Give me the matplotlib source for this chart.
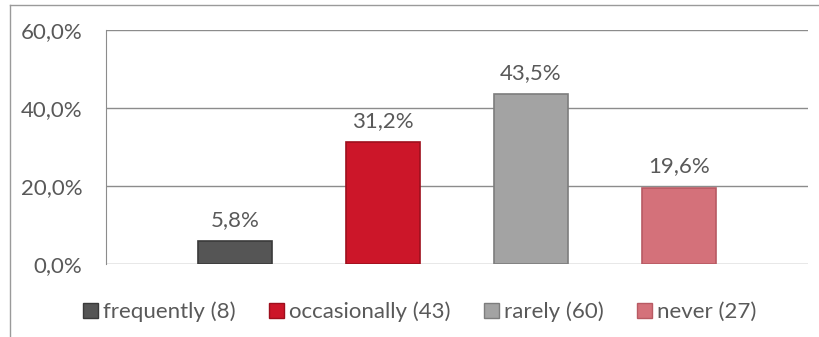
import matplotlib.pyplot as plt
from matplotlib.lines import Line2D

categories = ['frequently (8)', 'occasionally (43)', 'rarely (60)', 'never (27)']
values = [5.8, 31.2, 43.5, 19.6]
colors = ['#555555', '#CC1629', '#A3A3A3', '#D4717A']
edges = ['#3a3a3a', '#9e0f1d', '#7d7d7d', '#b85a63']
yticks = [0, 20, 40, 60]

plt.rcParams['font.family'] = ['Lato', 'DejaVu Sans']
txt = '#595959'
fs = 16

fig = plt.figure(figsize=(8.19, 3.37), dpi=100)
ax = fig.add_axes([106 / 819, 1 - 264 / 337, 702 / 819, 234 / 337])

x = list(range(len(values)))
ax.bar(x, values, width=0.5, color=colors, edgecolor=edges, linewidth=1.2, zorder=3)

for xi, v in zip(x, values):
    ax.text(xi, v + 3.0, f'{v:.1f}%'.replace('.', ','), ha='center', va='bottom',
            fontsize=fs, color=txt)

ax.set_xlim(-0.872, 3.872)
ax.set_ylim(0, 60)
ax.set_yticks(yticks)
ax.set_yticklabels([f'{t:.1f}%'.replace('.', ',') for t in yticks], fontsize=fs, color=txt)
ax.set_xticks([])
ax.tick_params(axis='y', length=0, pad=17)
ax.grid(axis='y', color='#8c8c8c', linewidth=1, zorder=0)
for s in ['top', 'right', 'bottom']:
    ax.spines[s].set_visible(False)
ax.spines['left'].set_color('#8c8c8c')

handles = [plt.Rectangle((0, 0), 1, 1, facecolor=c, edgecolor=e) for c, e in zip(colors, edges)]
fig.legend(handles, categories, loc='center', bbox_to_anchor=(0.5 + 10 / 819, 1 - 312 / 337), ncol=4,
           frameon=False, fontsize=fs, labelcolor=txt, handlelength=0.7, handleheight=0.7,
           handletextpad=0.2, columnspacing=1.5)

# outer chart border
fig.add_artist(Line2D([9.5 / 819, 1], [1 - 5 / 337, 1 - 5 / 337], color='#9a9a9a', linewidth=1))
fig.add_artist(Line2D([9.5 / 819, 9.5 / 819], [0, 1 - 5 / 337], color='#9a9a9a', linewidth=1))

fig.savefig('out.png', dpi=100)
